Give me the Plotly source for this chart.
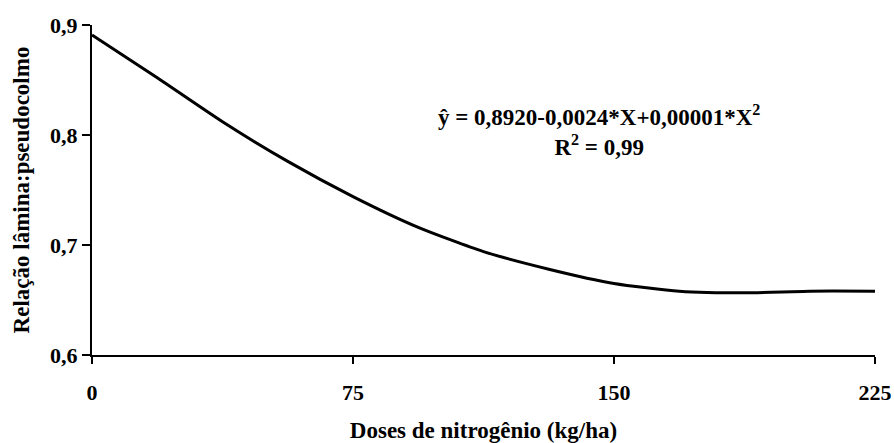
import plotly.graph_objects as go

doses = [0, 18.75, 37.5, 56.25, 75, 93.75, 112.5, 131.25, 150, 168.75, 187.5, 206.25, 225]
ratio = [0.891, 0.852, 0.812, 0.776, 0.744, 0.716, 0.694, 0.678, 0.665, 0.658, 0.6565, 0.658, 0.658]

x_ticks = [0, 75, 150, 225]
y_ticks = [0.6, 0.7, 0.8, 0.9]
y_tick_labels = ["0,6", "0,7", "0,8", "0,9"]

FONT = "Liberation Serif"

def b(s):
    return "<b>" + s + "</b>"

fig = go.Figure()
fig.add_trace(go.Scatter(x=doses, y=ratio, mode="lines",
                         line=dict(color="black", width=3, shape="spline", smoothing=0.6),
                         showlegend=False, hoverinfo="skip"))

fig.update_layout(
    width=894, height=443,
    margin=dict(l=92, r=19, t=25, b=88),
    paper_bgcolor="white", plot_bgcolor="white",
    font=dict(family=FONT, color="black", size=22),
    xaxis=dict(range=[0, 225], tickvals=x_ticks, ticktext=[b(str(v)) for v in x_ticks],
               showgrid=False, zeroline=False, showline=True, linecolor="black", linewidth=2,
               ticks="outside", ticklen=7, tickwidth=2, tickcolor="black",
               ticklabelstandoff=10, automargin=False,
               tickfont=dict(family=FONT, size=22, color="black"),
               title=dict(text=b("Doses de nitrogênio (kg/ha)"), standoff=18,
                          font=dict(family=FONT, size=23, color="black"))),
    yaxis=dict(range=[0.6, 0.9], tickvals=y_ticks, ticktext=[b(t) for t in y_tick_labels],
               showgrid=False, zeroline=False, showline=True, linecolor="black", linewidth=2,
               ticks="outside", ticklen=8, tickwidth=2, tickcolor="black",
               automargin=False,
               tickfont=dict(family=FONT, size=22, color="black"),
               title=dict(text=b("Relação lâmina:pseudocolmo"), standoff=14,
                          font=dict(family=FONT, size=23, color="black"))),
)

fig.add_annotation(x=0.648, y=0.679, xref="paper", yref="paper",
                   xanchor="center", yanchor="middle",
                   text=b("ŷ = 0,8920-0,0024*X+0,00001*X<sup>2</sup><br>R<sup>2</sup> = 0,99"),
                   showarrow=False, align="center",
                   font=dict(family=FONT, size=23, color="black"))

fig.write_html("out.html")
